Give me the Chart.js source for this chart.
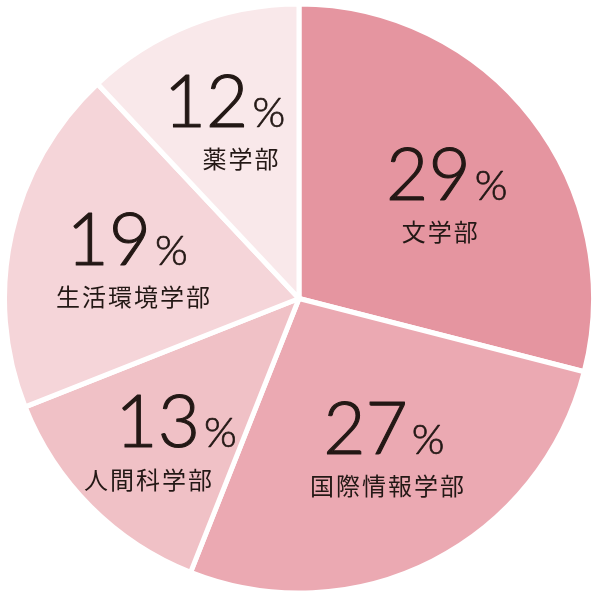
<!DOCTYPE html>
<html lang="ja">
<head>
<meta charset="utf-8">
<script src="https://cdn.jsdelivr.net/npm/chart.js@4/dist/chart.umd.min.js"></script>
<style>
    html, body { margin: 0; padding: 0; background: #fff; }
    #chart { display: block; }
</style>
</head>
<body>
<canvas id="chart" width="598" height="599"></canvas>
<script>
const faculties = ['文学部', '国際情報学部', '人間科学部', '生活環境学部', '薬学部'];
const shares = [29, 27, 13, 19, 12];
const sliceColors = ['#e595a0', '#eba9b2', '#f0c1c6', '#f5d5d9', '#f9e8ea'];

const ink = '#231815';
const numberFont = "300 73px Lato, Roboto, 'Liberation Sans', sans-serif";
const percentFont = "300 42px Lato, Roboto, 'Liberation Sans', sans-serif";
const labelFont = "400 24px 'Noto Sans CJK JP', sans-serif";

// small hand tweaks so each label block sits where the original has it
const groupShift = [[7, 6], [4, -8], [3, 18], [2, 0], [-9, -11]];
const nameShift = [-7, 3, -28, 6, 16];

const sliceLabels = {
    id: 'sliceLabels',
    afterDatasetsDraw(chart) {
        const ctx = chart.ctx;
        const meta = chart.getDatasetMeta(0);
        meta.data.forEach((arc, i) => {
            const mid = (arc.startAngle + arc.endAngle) / 2;
            const r = arc.outerRadius * 0.605;
            const cx = arc.x + Math.cos(mid) * r + groupShift[i][0];
            const cy = arc.y + Math.sin(mid) * r + groupShift[i][1];

            ctx.save();
            ctx.fillStyle = ink;
            ctx.strokeStyle = ink;
            ctx.lineWidth = 1.1;
            ctx.lineJoin = 'round';
            ctx.textBaseline = 'alphabetic';
            ctx.textAlign = 'left';

            const num = String(shares[i]);
            ctx.font = numberFont;
            const wNum = ctx.measureText(num).width;
            ctx.font = percentFont;
            const wPct = ctx.measureText('%').width;
            const gap = 4;
            const left = cx - (wNum + gap + wPct) / 2;

            // Lato Light is a touch too thin, so give it a hairline stroke
            ctx.font = numberFont;
            ctx.fillText(num, left, cy + 5);
            ctx.strokeText(num, left, cy + 5);
            ctx.font = percentFont;
            ctx.fillText('%', left + wNum + gap, cy + 5);
            ctx.lineWidth = 0.7;
            ctx.strokeText('%', left + wNum + gap, cy + 5);

            ctx.font = labelFont;
            ctx.letterSpacing = '2px';
            ctx.textAlign = 'center';
            ctx.textBaseline = 'middle';
            ctx.fillText(faculties[i], cx + nameShift[i] + 1, cy + 37);
            ctx.restore();
        });
    },
};

new Chart(document.getElementById('chart'), {
    type: 'pie',
    data: {
        labels: faculties,
        datasets: [
            {
                data: shares,
                backgroundColor: sliceColors,
                borderColor: '#ffffff',
                borderWidth: 5,
                hoverOffset: 0,
            },
        ],
    },
    options: {
        responsive: false,
        animation: false,
        layout: { padding: { left: 2, right: 2, top: 1, bottom: 3 } },
        plugins: {
            legend: { display: false },
            tooltip: { enabled: false },
        },
    },
    plugins: [sliceLabels],
});
</script>
</body>
</html>
